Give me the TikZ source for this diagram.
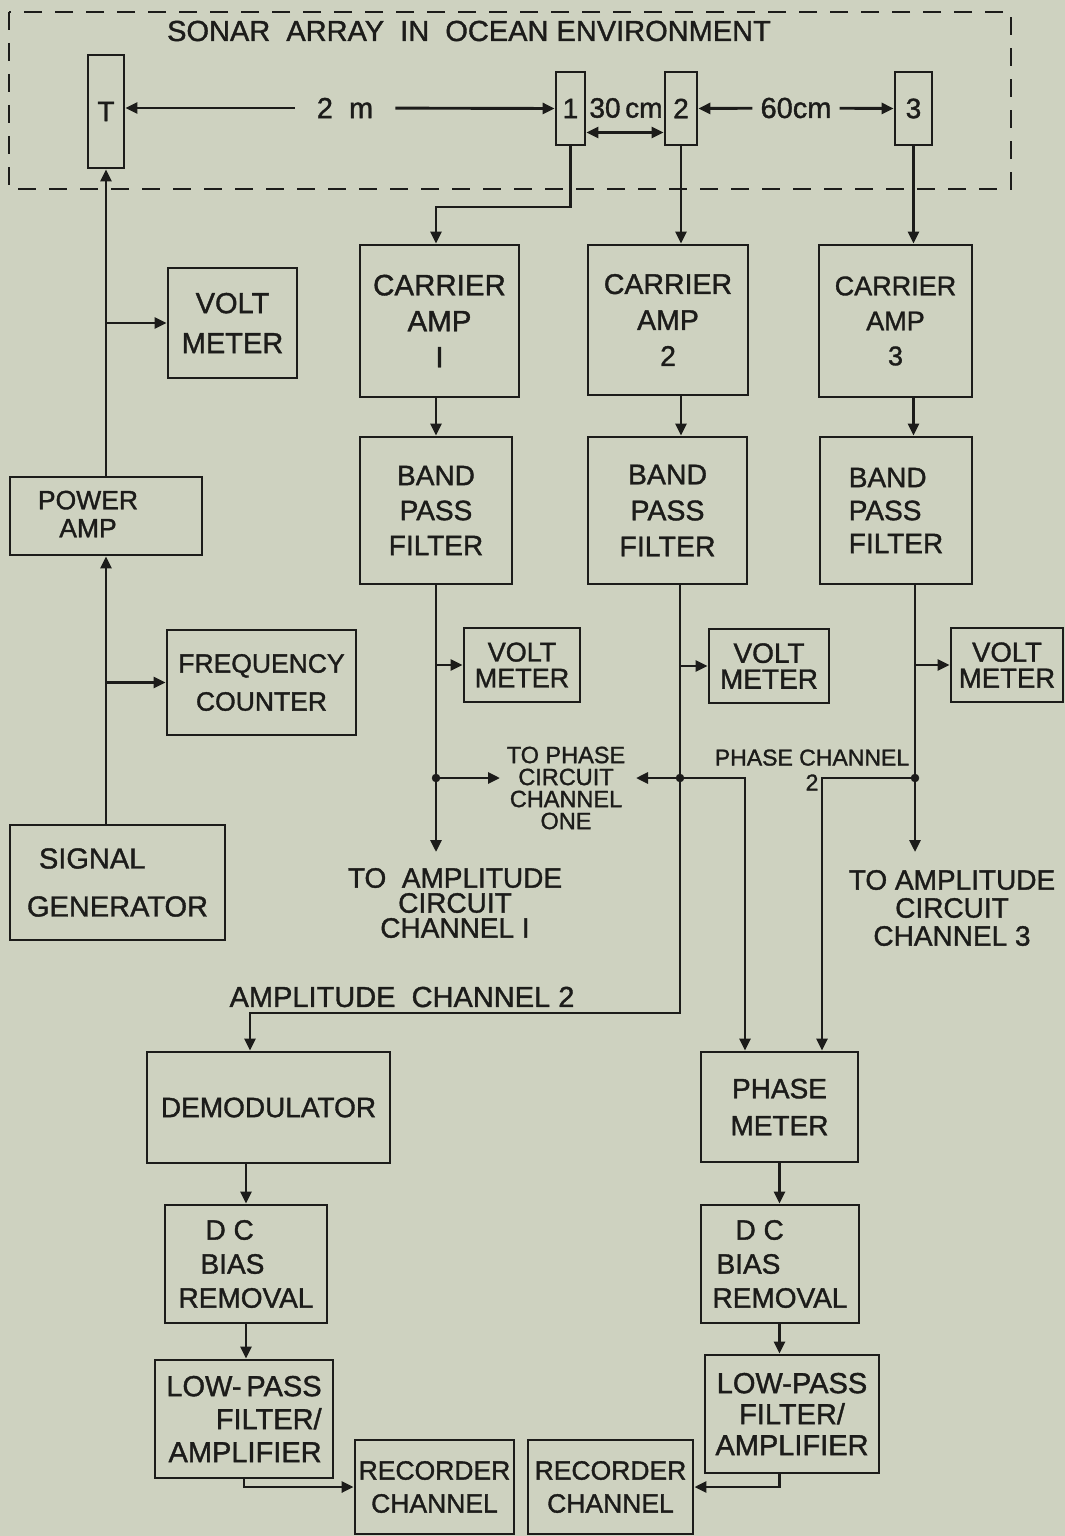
\documentclass[tikz,border=0pt]{standalone}
\usepackage{fontspec}
\setmainfont{Liberation Sans}[FakeBold=1.3]
\usetikzlibrary{arrows.meta,calc}
\definecolor{bgc}{RGB}{206,210,192}
\definecolor{ink}{RGB}{28,28,26}
\newcommand\fsz[2]{\fontsize{#1}{#2}\selectfont}
\begin{document}
\begin{tikzpicture}[x=1pt,y=-1pt,
  every node/.style={text=ink},
  blk/.style={draw=ink,line width=2.9pt,align=center,inner sep=2pt},
  txt/.style={align=center,inner sep=0pt},
  elem/.style={draw=ink,line width=2.9pt,inner sep=0pt,font=\fsz{28}{30}},
  wire/.style={draw=ink,line width=2.9pt},
  arr/.style={wire,-{Triangle[length=12pt,width=11pt]}},
  arrs/.style={wire,{Triangle[length=12pt,width=11pt]}-{Triangle[length=12pt,width=11pt]}},
  lbl/.style={align=center,inner sep=0pt},
  dot/.style={circle,fill=ink,draw=ink,inner sep=0pt,minimum size=8pt}]
\useasboundingbox (0,0) rectangle (1065,1536);
\fill[bgc] (0,0) rectangle (1065,1536);

% sonar array enclosure
\draw[ink,line width=2.9pt,dash pattern=on 18pt off 13pt] (9,12) rectangle (1011,189);
\node[lbl,font=\fsz{29}{30}] (title) at (469,31) {SONAR\ \ ARRAY\ \ IN\ \ OCEAN ENVIRONMENT};

% elements
\node[elem,minimum width=36pt,minimum height=113pt] (T) at (106,111.5) {T};
\node[elem,minimum width=29pt,minimum height=73pt] (E1) at (570.5,108.5) {1};
\node[elem,minimum width=32pt,minimum height=73pt] (E2) at (681,108.5) {2};
\node[elem,minimum width=37pt,minimum height=73pt] (E3) at (913.5,108.5) {3};

\node[lbl,inner xsep=22pt,font=\fsz{29}{30}] (m2) at (345,108) {2\ \ m};
\node[lbl,font=\fsz{28}{30}] (c30) at (626,108) {30\,cm};
\node[lbl,inner xsep=8pt,font=\fsz{29}{30}] (c60) at (796,108) {60cm};
\draw[arr] (m2) -- (m2 -| T.east);
\draw[arr] (m2) -- (E1.west);
\draw[arrs] ([yshift=-24pt]E1.east) -- ([yshift=-24pt]E2.west);
\draw[arr] (c60) -- (E2.east);
\draw[arr] (c60) -- (E3.west);

% transmit chain
\node[blk,minimum width=129pt,minimum height=110pt,font=\fsz{29}{40}] (VM0) at (232.5,323) {VOLT\\METER};
\node[blk,minimum width=192pt,minimum height=78pt] (PA) at (106,516) {};
\node[txt,font=\fsz{26.5}{28}] (PAt) at (88,514) {POWER\\AMP};
\node[blk,minimum width=189pt,minimum height=105pt,font=\fsz{26.5}{38}] (FC) at (261.5,682.5) {FREQUENCY\\COUNTER};
\node[blk,minimum width=215pt,minimum height=115pt,font=\fsz{29}{48},align=left] (SG) at (117.5,882.5) {\hspace*{12pt}SIGNAL\\GENERATOR};
\draw[arr] (PA.north) -- (T.south);
\draw[arr] (PA.north |- VM0.west) -- (VM0.west);
\draw[arr] (SG.north -| PA.south) -- (PA.south);
\draw[arr] (PA.south |- FC.west) -- (FC.west);

% receive chains
\node[blk,minimum width=159pt,minimum height=152pt,font=\fsz{29.5}{36}] (CA1) at (439.5,321) {CARRIER\\AMP\\I};
\node[blk,minimum width=160pt,minimum height=150pt,font=\fsz{28.5}{36}] (CA2) at (668,320) {CARRIER\\AMP\\2};
\node[blk,minimum width=153pt,minimum height=152pt,font=\fsz{27}{35}] (CA3) at (895.5,321) {CARRIER\\AMP\\3};
\node[blk,minimum width=152pt,minimum height=147pt,font=\fsz{28}{35}] (BP1) at (436,510.5) {BAND\\PASS\\FILTER};
\node[blk,minimum width=159pt,minimum height=147pt,font=\fsz{28.5}{36}] (BP2) at (667.5,510.5) {BAND\\PASS\\FILTER};
\node[blk,minimum width=152pt,minimum height=147pt,font=\fsz{28}{33},align=left] (BP3) at (896,510.5) {BAND\\PASS\\FILTER};
\node[blk,minimum width=116pt,minimum height=74pt,font=\fsz{27}{26}] (VM1) at (522,665) {VOLT\\METER};
\node[blk,minimum width=120pt,minimum height=74pt,font=\fsz{28}{26}] (VM2) at (769,666) {VOLT\\METER};
\node[blk,minimum width=112pt,minimum height=74pt,font=\fsz{27.5}{26}] (VM3) at (1007,665) {VOLT\\METER};

\coordinate (k1) at (570.5,207);
\draw[arr] (E1.south) -- (k1) -| (BP1.north |- CA1.north);
\draw[arr] (E2.south) -- (CA2.north -| E2.south);
\draw[arr] (E3.south) -- (CA3.north -| E3.south);
\draw[arr] (CA1.south -| BP1.north) -- (BP1.north);
\draw[arr] (CA2.south -| E2.south) -- (BP2.north -| E2.south);
\draw[arr] (CA3.south -| E3.south) -- (BP3.north -| E3.south);

% channel 1
\coordinate (j1) at (436,778);
\coordinate (e1) at (436,852);
\coordinate (p1) at (500,778);
\draw[arr] (BP1.south) -- (e1);
\draw[arr] (BP1.south |- VM1.west) -- (VM1.west);
\draw[arr] (j1) -- (p1);
\node[dot] (d1) at (j1) {};
\node[lbl,font=\fsz{23.5}{22}] (tp1) at (566,788) {TO PHASE\\CIRCUIT\\CHANNEL\\ONE};
\node[lbl,font=\fsz{28}{25}] (ta1) at (455,903) {TO\ \ AMPLITUDE\\CIRCUIT\\CHANNEL I};

% channel 2
\coordinate (j2) at (680,778);
\coordinate (a2) at (680,1013);
\coordinate (b2) at (250,1013);
\coordinate (q2) at (745,778);
\coordinate (g2) at (636,778);
\node[blk,minimum width=243pt,minimum height=111pt,font=\fsz{28}{30}] (DEM) at (268.5,1107.5) {DEMODULATOR};
\node[blk,minimum width=157pt,minimum height=110pt,font=\fsz{28}{37}] (PM) at (779.5,1107) {PHASE\\METER};
\draw[arr] (BP2.south -| a2) -- (a2) -- (b2) -- (b2 |- DEM.north);
\draw[arr] (a2 |- VM2.west) -- (VM2.west);
\draw[arr] (j2) -- (g2);
\draw[arr] (j2) -- (q2) -- (q2 |- PM.north);
\node[dot] (d2) at (j2) {};
\node[lbl,font=\fsz{23}{25}] (pc2) at (812,770) {PHASE CHANNEL\\2};
\node[lbl,font=\fsz{29}{30}] (ac2) at (402,997) {AMPLITUDE\ \ CHANNEL 2};

% channel 3
\coordinate (j3) at (915,778);
\coordinate (e3) at (915,852);
\coordinate (q3) at (822,778);
\draw[arr] (BP3.south -| e3) -- (e3);
\draw[arr] (e3 |- VM3.west) -- (VM3.west);
\draw[arr] (j3) -- (q3) -- (q3 |- PM.north);
\node[dot] (d3) at (j3) {};
\node[lbl,font=\fsz{28}{28}] (ta3) at (952,908) {TO AMPLITUDE\\CIRCUIT\\CHANNEL 3};

% lower chains
\node[blk,minimum width=162pt,minimum height=118pt,font=\fsz{28}{34},align=left] (DC1) at (246,1264) {\hspace*{27pt}D C\\\hspace*{22pt}BIAS\\REMOVAL};
\node[blk,minimum width=158pt,minimum height=118pt,font=\fsz{28}{34},align=left] (DC2) at (780,1264) {\hspace*{23pt}D C\\\hspace*{4pt}BIAS\\REMOVAL};
\node[blk,minimum width=178pt,minimum height=118pt,font=\fsz{29}{33},align=right] (LP1) at (244,1419) {LOW-\,PASS\\FILTER/\\AMPLIFIER};
\node[blk,minimum width=174pt,minimum height=118pt,font=\fsz{29}{31}] (LP2) at (792,1414) {LOW-PASS\\FILTER/\\AMPLIFIER};
\node[blk,minimum width=159pt,minimum height=94pt,font=\fsz{26.5}{33}] (RC1) at (434.5,1487) {RECORDER\\CHANNEL};
\node[blk,minimum width=165pt,minimum height=94pt,font=\fsz{26.5}{33}] (RC2) at (610.5,1487) {RECORDER\\CHANNEL};

\draw[arr] (DEM.south -| DC1.north) -- (DC1.north);
\draw[arr] (DC1.south) -- (LP1.north -| DC1.south);
\draw[arr] (LP1.south) |- (RC1.west);
\draw[arr] (PM.south) -- (DC2.north -| PM.south);
\draw[arr] (DC2.south -| PM.south) -- (LP2.north -| PM.south);
\draw[arr] (LP2.south -| PM.south) |- (RC2.east);
\end{tikzpicture}
\end{document}
